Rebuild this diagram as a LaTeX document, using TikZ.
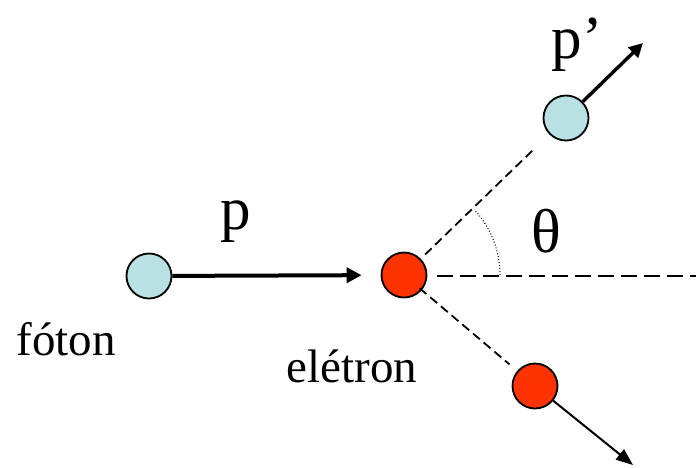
\documentclass[tikz,border=0pt]{standalone}
\usepackage{fontspec}
\setmainfont{Liberation Serif}
\usetikzlibrary{arrows.meta}
\definecolor{lblue}{RGB}{185,224,227}
\definecolor{ered}{RGB}{255,51,0}
\begin{document}
\begin{tikzpicture}[x=1pt,y=-1pt,
  ball/.style={circle,draw=black,line width=1.8pt,minimum size=45pt,inner sep=0pt},
  photonball/.style={ball,fill=lblue},
  electronball/.style={ball,fill=ered},
  bigarrow/.style={line width=4pt,-{Triangle[length=15pt,width=15pt]}},
  midarrow/.style={line width=3.4pt,-{Triangle[length=14pt,width=14pt]}},
  thinarrow/.style={line width=2pt,-{Triangle[length=17pt,width=13pt]}},
  dashdiag/.style={line width=1.8pt,dash pattern=on 9pt off 5pt},
  dashhoriz/.style={line width=1.8pt,dash pattern=on 16pt off 7pt},
  label/.style={inner sep=0pt,font=\fontsize{47}{50}\selectfont},
  biglabel/.style={inner sep=0pt,font=\fontsize{61}{64}\selectfont}
]
\useasboundingbox (0,0) rectangle (696,467);

\node[photonball] (ph) at (149,276) {};
\node[electronball] (el) at (404,275) {};
\node[photonball] (ph2) at (566,118) {};
\node[electronball] (el2) at (535,386) {};

\coordinate (t1) at (643,43);
\coordinate (t2) at (633,465);
\coordinate (hr) at (696,276);
\coordinate (hl) at (437,276);

% incoming photon
\draw[bigarrow,shorten >=19pt] (ph) -- (el);

% dashed paths
\draw[dashdiag,shorten <=6pt,shorten >=23pt] (el) -- (ph2);
\draw[dashdiag,shorten <=-3pt,shorten >=10pt] (el) -- (el2);
\draw[dashhoriz] (hl) -- (hr);

% angle arc
\draw[line width=1pt,dash pattern=on 1pt off 2pt] (el.center) ++(96,0) arc[start angle=0,end angle=-43,radius=96];

% outgoing arrows
\draw[midarrow] (ph2) -- (t1);
\draw[thinarrow] (el2) -- (t2);

% labels
\node[biglabel] (lp) at (236,222) {p};
\node[biglabel] (lp2) at (577,45) {p’};
\node[label,font=\fontsize{62}{66}\selectfont] (lth) at (546,231) {θ};
\node[label] (lfo) at (66,339) {fóton};
\node[label] (lel) at (352,366) {elétron};
\end{tikzpicture}
\end{document}
